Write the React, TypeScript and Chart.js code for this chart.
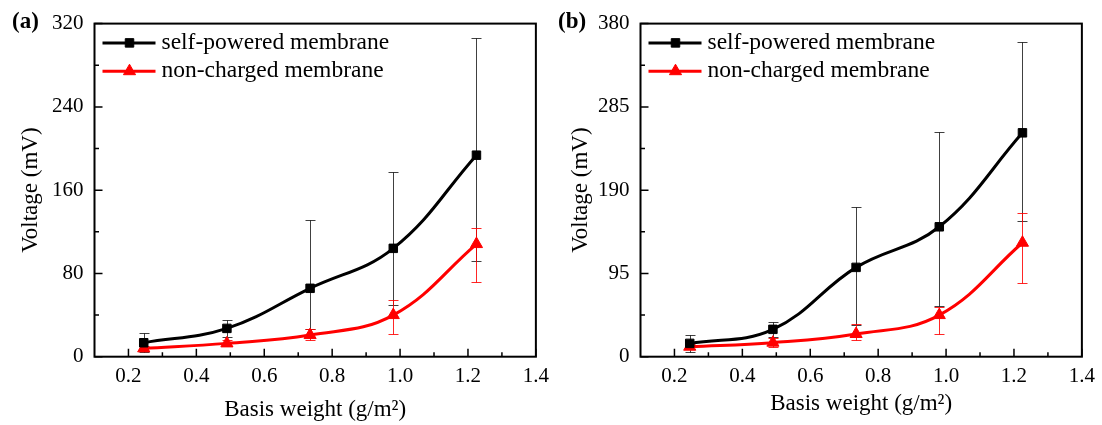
import React, { useEffect, useRef } from 'react';
import { Chart, registerables } from 'chart.js';

Chart.register(...registerables);

const FONT = '"Liberation Serif", "Times New Roman", serif';

// shared x data
const BASIS_WEIGHT = [0.245, 0.49, 0.735, 0.98, 1.225];
const X_TICKS = [0.2, 0.4, 0.6, 0.8, 1.0, 1.2, 1.4];
const X_MINOR = [0.3, 0.5, 0.7, 0.9, 1.1, 1.3];
const SERIES_NAMES = ['self-powered membrane', 'non-charged membrane'];

// panel (a)
const A_Y_TICKS = [0, 80, 160, 240, 320];
const A_Y_MINOR = [40, 120, 200, 280];
const A_SELF = [13.4, 27.2, 65.7, 104.1, 193.6];
const A_SELF_HIGH = [22.4, 35.2, 131.2, 177, 306.6];
const A_SELF_LOW = [4.4, 19.2, 26.3, 49.6, 92.2];
const A_NON = [8, 12.8, 20.8, 40, 108.2];
const A_NON_HIGH = [10.5, 15.8, 26.3, 54.4, 123.3];
const A_NON_LOW = [5.5, 9.8, 16, 21.8, 72];

// panel (b)
const B_Y_TICKS = [0, 95, 190, 285, 380];
const B_Y_MINOR = [47.5, 142.5, 237.5, 332.5];
const B_SELF = [15.2, 31.2, 101.9, 148.2, 255.4];
const B_SELF_HIGH = [24.7, 39.9, 171, 256.6, 358.5];
const B_SELF_LOW = [5.7, 22.5, 36.1, 58.2, 155.1];
const B_NON = [11.4, 16, 25.9, 47.5, 130];
const B_NON_HIGH = [14, 21, 36.9, 57, 164.2];
const B_NON_LOW = [8.8, 11, 19, 25.9, 83.7];

type PanelProps = {
  label: string;
  yMax: number;
  yTicks: number[];
  yMinor: number[];
  self: number[];
  selfHigh: number[];
  selfLow: number[];
  non: number[];
  nonHigh: number[];
  nonLow: number[];
  yTitlePad: number;
  xTitlePad: number;
};

const CW = 556;
const CH = 425;

function drawMarker(ctx: CanvasRenderingContext2D, style: string, x: number, y: number, color: string) {
  ctx.save();
  ctx.fillStyle = color;
  ctx.strokeStyle = color;
  ctx.lineWidth = 1;
  ctx.beginPath();
  if (style === 'rect') {
    const s = 4.25;
    ctx.rect(x - s, y - s, 2 * s, 2 * s);
  } else {
    const r = 7;
    ctx.moveTo(x, y - r);
    ctx.lineTo(x + r * Math.cos(Math.PI / 6), y + r / 2);
    ctx.lineTo(x - r * Math.cos(Math.PI / 6), y + r / 2);
    ctx.closePath();
  }
  ctx.fill();
  ctx.stroke();
  ctx.restore();
}

function makePlugin(p: PanelProps) {
  return {
    id: 'decor',
    beforeDatasetsDraw(chart: any) {
      const { ctx } = chart;
      const xs = chart.scales.x;
      const ys = chart.scales.y;
      chart.data.datasets.forEach((ds: any) => {
        ctx.save();
        ctx.strokeStyle = ds.errColor;
        ctx.lineWidth = 1;
        ds.data.forEach((pt: any, i: number) => {
          const x = Math.round(xs.getPixelForValue(pt.x)) + 0.5;
          const yt = Math.round(ys.getPixelForValue(ds.errHigh[i])) + 0.5;
          const yb = Math.round(ys.getPixelForValue(ds.errLow[i])) + 0.5;
          ctx.beginPath();
          ctx.moveTo(x, yt);
          ctx.lineTo(x, yb);
          ctx.moveTo(x - 5, yt);
          ctx.lineTo(x + 5, yt);
          ctx.moveTo(x - 5, yb);
          ctx.lineTo(x + 5, yb);
          ctx.stroke();
        });
        ctx.restore();
      });
    },
    afterDraw(chart: any) {
      const { ctx, chartArea } = chart;
      const { left, right, top, bottom } = chartArea;
      const xs = chart.scales.x;
      const ys = chart.scales.y;
      ctx.save();
      // frame
      ctx.strokeStyle = '#000';
      ctx.lineWidth = 2;
      ctx.strokeRect(left, top, right - left, bottom - top);
      // inward ticks
      ctx.lineWidth = 1.5;
      ctx.beginPath();
      X_TICKS.forEach((v) => {
        const x = xs.getPixelForValue(v);
        ctx.moveTo(x, bottom);
        ctx.lineTo(x, bottom - 8);
      });
      X_MINOR.forEach((v) => {
        const x = xs.getPixelForValue(v);
        ctx.moveTo(x, bottom);
        ctx.lineTo(x, bottom - 4.5);
      });
      p.yTicks.forEach((v) => {
        const y = ys.getPixelForValue(v);
        ctx.moveTo(left, y);
        ctx.lineTo(left + 8, y);
      });
      p.yMinor.forEach((v) => {
        const y = ys.getPixelForValue(v);
        ctx.moveTo(left, y);
        ctx.lineTo(left + 4.5, y);
      });
      ctx.stroke();

      // legend
      const rows = [
        { y: top + 19.3, color: '#000', style: 'rect' },
        { y: top + 47.6, color: '#ff0000', style: 'triangle' },
      ];
      rows.forEach((r, i) => {
        ctx.strokeStyle = r.color;
        ctx.lineWidth = 3;
        ctx.beginPath();
        ctx.moveTo(left + 8, r.y);
        ctx.lineTo(left + 61, r.y);
        ctx.stroke();
        drawMarker(ctx, r.style, left + 35, r.y, r.color);
        ctx.fillStyle = '#000';
        ctx.font = `23.5px ${FONT}`;
        ctx.textBaseline = 'middle';
        ctx.textAlign = 'left';
        ctx.fillText(SERIES_NAMES[i], left + 67, r.y);
      });

      // panel label
      ctx.fillStyle = '#000';
      ctx.font = `bold 23px ${FONT}`;
      ctx.textBaseline = 'alphabetic';
      ctx.textAlign = 'left';
      ctx.fillText(p.label, 12, 27.5);
      ctx.restore();
    },
  };
}

function Panel(p: PanelProps & { offset: number }) {
  const ref = useRef<HTMLCanvasElement | null>(null);
  useEffect(() => {
    if (!ref.current) return;
    const toPts = (arr: number[]) => BASIS_WEIGHT.map((x, i) => ({ x, y: arr[i] }));
    const chart = new Chart(ref.current, {
      type: 'line',
      data: {
        datasets: [
          {
            label: SERIES_NAMES[0],
            data: toPts(p.self),
            borderColor: '#000',
            backgroundColor: '#000',
            borderWidth: 3,
            pointStyle: 'rect',
            pointRadius: 6,
            pointBorderWidth: 1,
            tension: 0.4,
            errHigh: p.selfHigh,
            errLow: p.selfLow,
            errColor: 'rgba(0,0,0,0.75)',
          } as any,
          {
            label: SERIES_NAMES[1],
            data: toPts(p.non),
            borderColor: '#ff0000',
            backgroundColor: '#ff0000',
            borderWidth: 3,
            pointStyle: 'triangle',
            pointRadius: 7,
            pointBorderWidth: 1,
            tension: 0.4,
            errHigh: p.nonHigh,
            errLow: p.nonLow,
            errColor: 'rgba(255,0,0,0.85)',
          } as any,
        ],
      },
      options: {
        animation: false,
        responsive: false,
        devicePixelRatio: 1,
        layout: { padding: { left: 0, right: CW - 540, top: 23.4, bottom: 0 } },
        plugins: { legend: { display: false }, tooltip: { enabled: false } },
        scales: {
          x: {
            type: 'linear',
            min: 0.1,
            max: 1.4,
            afterBuildTicks: (s: any) => {
              s.ticks = X_TICKS.map((v) => ({ value: v }));
            },
            afterFit: (s: any) => {
              s.height = CH - 356.7;
            },
            ticks: {
              font: { family: FONT, size: 21 },
              color: '#000',
              padding: 7,
              maxRotation: 0,
              autoSkip: false,
              callback: (v: any) => Number(v).toFixed(1),
            },
            grid: { display: false, drawTicks: false },
            border: { display: false },
            title: {
              display: true,
              text: 'Basis weight (g/m²)',
              font: { family: FONT, size: 23 },
              color: '#000',
              padding: { top: 0, bottom: p.xTitlePad },
            },
          },
          y: {
            type: 'linear',
            min: 0,
            max: p.yMax,
            afterBuildTicks: (s: any) => {
              s.ticks = p.yTicks.map((v) => ({ value: v }));
            },
            afterFit: (s: any) => {
              s.width = 94.5;
            },
            ticks: {
              font: { family: FONT, size: 21 },
              color: '#000',
              padding: 11,
              autoSkip: false,
              callback: (v: any) => String(v),
            },
            grid: { display: false, drawTicks: false },
            border: { display: false },
            title: {
              display: true,
              text: 'Voltage (mV)',
              font: { family: FONT, size: 23 },
              color: '#000',
              padding: { top: p.yTitlePad, bottom: 0 },
            },
          },
        },
      } as any,
      plugins: [makePlugin(p) as any],
    });
    return () => chart.destroy();
  }, []);
  return (
    <canvas
      ref={ref}
      width={CW}
      height={CH}
      style={{ position: 'absolute', left: p.offset, top: 0, width: CW, height: CH }}
    />
  );
}

export default function App() {
  return (
    <div style={{ position: 'absolute', left: 0, top: 0, width: 1102, height: 425, background: '#fff' }}>
      <Panel
        offset={0}
        label="(a)"
        yMax={320}
        yTicks={A_Y_TICKS}
        yMinor={A_Y_MINOR}
        self={A_SELF}
        selfHigh={A_SELF_HIGH}
        selfLow={A_SELF_LOW}
        non={A_NON}
        nonHigh={A_NON_HIGH}
        nonLow={A_NON_LOW}
        yTitlePad={17}
        xTitlePad={1}
      />
      <Panel
        offset={546}
        label="(b)"
        yMax={380}
        yTicks={B_Y_TICKS}
        yMinor={B_Y_MINOR}
        self={B_SELF}
        selfHigh={B_SELF_HIGH}
        selfLow={B_SELF_LOW}
        non={B_NON}
        nonHigh={B_NON_HIGH}
        nonLow={B_NON_LOW}
        yTitlePad={21}
        xTitlePad={7}
      />
    </div>
  );
}
